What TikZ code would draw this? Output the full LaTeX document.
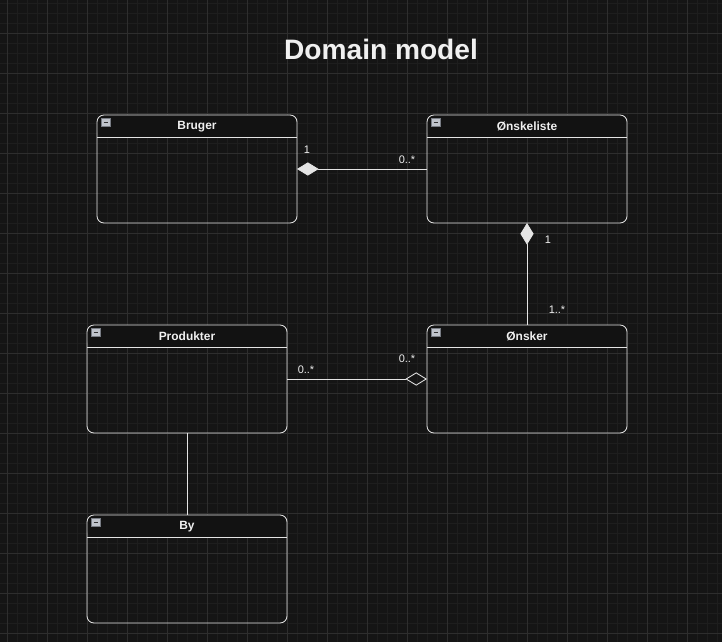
\documentclass[tikz,border=0pt]{standalone}
\usepackage{fontspec}
\setmainfont{Liberation Sans}
\usetikzlibrary{
  arrows.meta,
  calc
}
\definecolor{bgcolor}{RGB}{21,21,21}
\definecolor{minorgridcolor}{RGB}{30,30,30}
\definecolor{majorgridcolor}{RGB}{46,46,46}
\definecolor{linecolor}{RGB}{228,228,228}
\definecolor{labelcolor}{RGB}{240,240,240}
\definecolor{headcolor}{RGB}{18,18,18}
\definecolor{togglecolor}{RGB}{192,196,204}
\definecolor{togglebordercolor}{RGB}{120,124,132}
\tikzset{
classbox/.style={
  draw=linecolor,
  line width=0.6pt,
  rounded corners=5pt,
  minimum width=5cm,
  minimum height=2.7cm,
  inner sep=0pt,
  outer sep=0pt,
  path picture={
    \fill[headcolor] (path picture bounding box.north west)
      rectangle ([yshift=-0.55cm]path picture bounding box.north east);
  }
},
headline/.style={
  draw=linecolor,
  line width=0.6pt
},
classtitle/.style={
  font=\fontsize{8.5}{10}\selectfont\bfseries,
  text=labelcolor,
  inner sep=0pt
},
togglebox/.style={
  draw=togglebordercolor,
  fill=togglecolor,
  line width=0.4pt,
  minimum size=0.21cm,
  inner sep=0pt,
  path picture={
    \draw[black!80, line width=0.9pt]
      ([xshift=1.3pt]path picture bounding box.west) --
      ([xshift=-1.3pt]path picture bounding box.east);
  }
},
multlabel/.style={
  font=\fontsize{7.8}{9}\selectfont,
  text=labelcolor,
  inner sep=0pt
},
titlelabel/.style={
  font=\fontsize{20}{24}\selectfont\bfseries,
  text=labelcolor
}
}

\begin{document}
\begin{tikzpicture}[
    x=0.025cm, y=-0.025cm,
    % connector styles
    association/.style={draw=linecolor, line width=0.6pt},
    composition/.style={association, {Diamond[length=0.54cm, width=0.33cm]}-},
    aggregation/.style={association, -{Diamond[open, length=0.54cm, width=0.33cm]}},
]

% ==============================================================
% BACKGROUND + GRID
% ==============================================================
\fill[bgcolor] (0,0) rectangle (722,642);
\useasboundingbox (0,0) rectangle (722,642);
\foreach \gx in {7,17,...,717}
  \draw[minorgridcolor, line width=0.5pt] (\gx,0) -- (\gx,642);
\foreach \gy in {3,13,...,633}
  \draw[minorgridcolor, line width=0.5pt] (0,\gy) -- (722,\gy);
\foreach \gx in {7,47,...,687}
  \draw[majorgridcolor, line width=0.6pt] (\gx,0) -- (\gx,642);
\foreach \gy in {33,73,...,633}
  \draw[majorgridcolor, line width=0.6pt] (0,\gy) -- (722,\gy);

% ==============================================================
% TITLE
% ==============================================================
\node[titlelabel] (title) at (381,49) {Domain model};

% ==============================================================
% CLASSES
% ==============================================================
\node[classbox] (bruger) at (197,169) {};
\node[classbox] (onskeliste) at (527,169) {};
\node[classbox] (produkter) at (187,379) {};
\node[classbox] (onsker) at (527,379) {};
\node[classbox] (by) at (187,569) {};

\foreach \cls/\clsname in {bruger/Bruger, onskeliste/Ønskeliste,
    produkter/Produkter, onsker/Ønsker, by/By} {
  \draw[headline] ($(\cls.north west)+(0,22)$) -- ($(\cls.north east)+(0,22)$);
  \node[classtitle] (\cls title) at ($(\cls.north)+(0,11.5)$) {\clsname};
  \node[togglebox] (\cls toggle) at ($(\cls.north west)+(9,7.5)$) {};
}

% ==============================================================
% ASSOCIATIONS
% ==============================================================
\draw[composition] (bruger) -- (onskeliste);
\node[multlabel] (brugermult) at (307,150) {1};
\node[multlabel] (onskelistemult) at (407,160) {0..*};

\draw[composition] (onskeliste) -- (onsker);
\node[multlabel] (listemult) at (548,240) {1};
\node[multlabel] (onskermult) at (557,310) {1..*};

\draw[aggregation] (produkter) -- (onsker);
\node[multlabel] (produktermult) at (306,370) {0..*};
\node[multlabel] (onskeragg) at (407,359) {0..*};

\draw[association] (produkter) -- (by);

\end{tikzpicture}
\end{document}
